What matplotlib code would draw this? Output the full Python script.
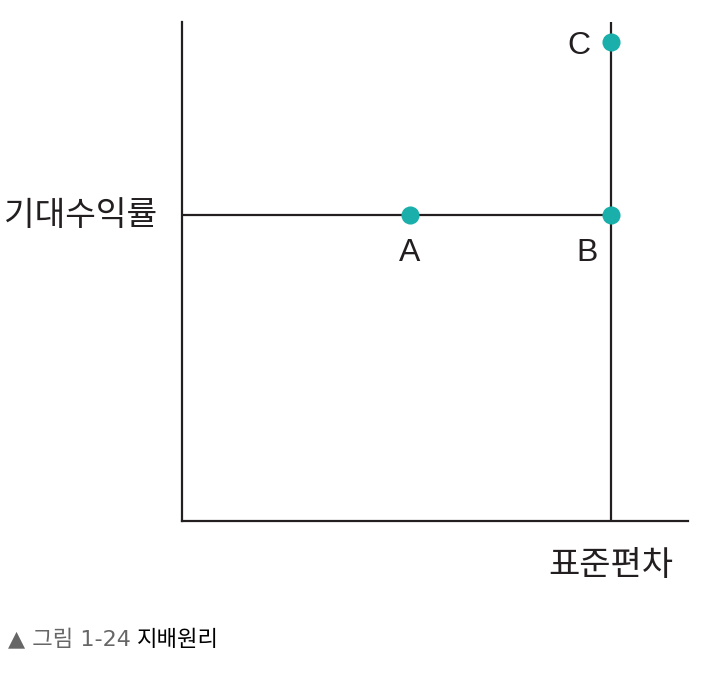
import matplotlib
matplotlib.use("Agg")
import matplotlib.pyplot as plt

plt.rcParams['font.family'] = ['Noto Sans CJK KR', 'DejaVu Sans']

# points on the dominance diagram (std dev, expected return)
point_names = ['A', 'B', 'C']
point_x = [4.5, 8.48, 8.48]
point_y = [6.13, 6.13, 9.6]
label_dx = [0.0, -0.48, -0.63]
label_dy = [-0.76, -0.76, -0.08]

ret_level = 6.13   # horizontal line through A and B
risk_level = 8.48  # vertical line through B and C

line_color = '#231f20'
dot_color = '#1aafaa'

fig = plt.figure(figsize=(7.28, 6.8), dpi=100)
ax = fig.add_axes([182 / 728, 1 - 521 / 680, 506 / 728, 499 / 680])
ax.set_xlim(0, 10)
ax.set_ylim(0, 10)

# axes: only left and bottom
for side in ['top', 'right']:
    ax.spines[side].set_visible(False)
for side in ['left', 'bottom']:
    ax.spines[side].set_color(line_color)
    ax.spines[side].set_linewidth(1.6)
ax.set_xticks([])
ax.set_yticks([])

# guide lines
ax.plot([0, risk_level], [ret_level, ret_level], color=line_color, lw=1.6, zorder=2)
ax.plot([risk_level, risk_level], [0, 10], color=line_color, lw=1.6, zorder=2)

ax.scatter(point_x, point_y, s=170, color=dot_color, zorder=3, linewidths=0)

for name, x, y, dx, dy in zip(point_names, point_x, point_y, label_dx, label_dy):
    ax.text(x + dx, y + dy, name, fontsize=23, ha='center', va='center',
            color=line_color, family=['Liberation Sans', 'DejaVu Sans'])

ax.text(-0.5, ret_level, '기대수익률', fontsize=24, ha='right', va='center',
        color=line_color)
fig.text(611 / 728, 1 - 566 / 680, '표준편차', fontsize=24.5, ha='center', va='center',
         color=line_color)

# caption
fig.text(8 / 728, 1 - 640 / 680, '▲ 그림 1-24', fontsize=16, ha='left', va='center',
         color='#666666', family=['DejaVu Sans', 'Noto Sans CJK KR'])
fig.text(137 / 728, 1 - 640 / 680, '지배원리', fontsize=16, ha='left', va='center',
         color='black')

fig.savefig('out.png', dpi=100, facecolor='white')
